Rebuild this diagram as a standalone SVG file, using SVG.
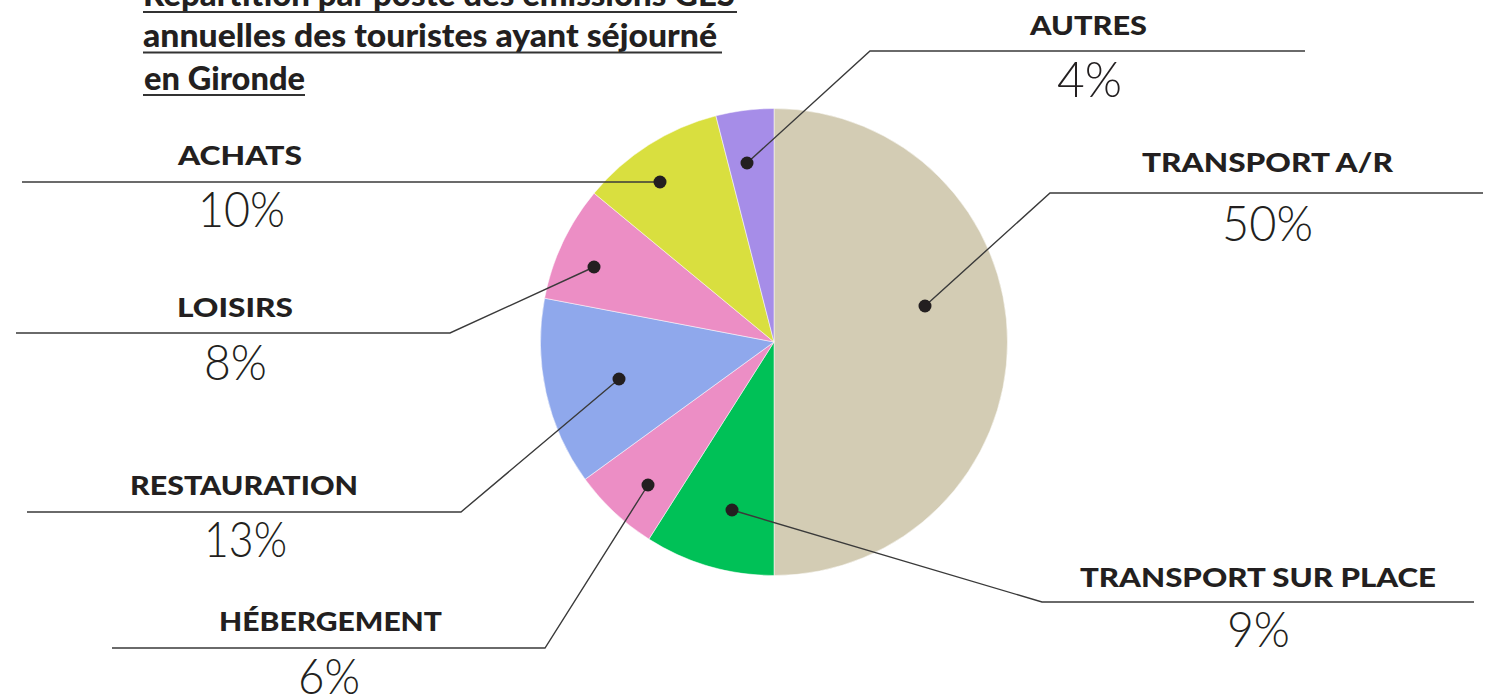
<svg xmlns="http://www.w3.org/2000/svg" width="1493" height="697" viewBox="0 0 1493 697">
<style>
.title{font-family:"Lato","Open Sans",sans-serif;font-weight:900;font-size:33px;fill:#231f20}
.ul{stroke:#333;stroke-width:2}
.lab{font-family:"Lato","Liberation Sans",sans-serif;font-weight:900;font-size:27px;fill:#231f20}
.pct{font-family:"Lato","Liberation Sans",sans-serif;font-weight:300;font-size:49px;fill:#231f20}
.lead{fill:none;stroke:#3a3a3a;stroke-width:1.4}
.dot{fill:#231f20}
.sl{stroke:#fff;stroke-width:0.5}
</style>
<rect width="1493" height="697" fill="#fff"/>
<g id="title">
<text class="title" x="143" y="6" textLength="592" lengthAdjust="spacingAndGlyphs">Répartition par poste des émissions GES</text>
<line class="ul" x1="143" y1="12" x2="737" y2="12"/>
<text class="title" x="143" y="47" textLength="574" lengthAdjust="spacingAndGlyphs">annuelles des touristes ayant séjourné</text>
<line class="ul" x1="143" y1="52.5" x2="722" y2="52.5"/>
<text class="title" x="144" y="90" textLength="161" lengthAdjust="spacingAndGlyphs">en Gironde</text>
<line class="ul" x1="143" y1="95" x2="305" y2="95"/>
</g>
<g id="pie">
<path id="s-transport-ar" class="sl" fill="#d3ccb4" d="M774,342 L774,108.5 A233.5,233.5 0 0 1 1007.5,342 A233.5,233.5 0 0 1 774,575.5 Z"/>
<path id="s-transport-sp" class="sl" fill="#00c157" d="M774,342 L774,575.5 A233.5,233.5 0 0 1 648.9,539.1 Z"/>
<path id="s-hebergement" class="sl" fill="#ec8ec5" d="M774,342 L648.9,539.1 A233.5,233.5 0 0 1 585.1,479.3 Z"/>
<path id="s-restauration" class="sl" fill="#8fa8ec" d="M774,342 L585.1,479.3 A233.5,233.5 0 0 1 544.6,298.2 Z"/>
<path id="s-loisirs" class="sl" fill="#ec8ec5" d="M774,342 L544.6,298.2 A233.5,233.5 0 0 1 594.1,193.2 Z"/>
<path id="s-achats" class="sl" fill="#d9df3f" d="M774,342 L594.1,193.2 A233.5,233.5 0 0 1 715.9,115.8 Z"/>
<path id="s-autres" class="sl" fill="#a68de8" d="M774,342 L715.9,115.8 A233.5,233.5 0 0 1 774,108.5 Z"/>
</g>
<g id="connectors">
<polyline class="lead" points="747,163 870,51 1305,51"/>
<polyline class="lead" points="925,306 1050,193 1483,193"/>
<polyline class="lead" points="660,182 22,182"/>
<polyline class="lead" points="594,267 450,333 16,333"/>
<polyline class="lead" points="619,379 461,512 27,512"/>
<polyline class="lead" points="648,485 545,648 112,648"/>
<polyline class="lead" points="732,510 1042,602 1474,602"/>
<circle class="dot" cx="747" cy="163" r="6.5"/>
<circle class="dot" cx="925" cy="306" r="6.5"/>
<circle class="dot" cx="660" cy="182" r="6.5"/>
<circle class="dot" cx="594" cy="267" r="6.5"/>
<circle class="dot" cx="619" cy="379" r="6.5"/>
<circle class="dot" cx="648" cy="485" r="6.5"/>
<circle class="dot" cx="732" cy="510" r="6.5"/>
</g>
<g id="n-autres">
<text class="lab" x="1030" y="35" textLength="117" lengthAdjust="spacingAndGlyphs">AUTRES</text>
<text class="pct" x="1057" y="97" textLength="65" lengthAdjust="spacingAndGlyphs">4%</text>
</g>
<g id="n-transport-ar">
<text class="lab" x="1142" y="172" textLength="251" lengthAdjust="spacingAndGlyphs">TRANSPORT A/R</text>
<text class="pct" x="1222" y="241" textLength="91" lengthAdjust="spacingAndGlyphs">50%</text>
</g>
<g id="n-achats">
<text class="lab" x="178" y="165" textLength="124" lengthAdjust="spacingAndGlyphs">ACHATS</text>
<text class="pct" x="198" y="227" textLength="87" lengthAdjust="spacingAndGlyphs">10%</text>
</g>
<g id="n-loisirs">
<text class="lab" x="177" y="317" textLength="116" lengthAdjust="spacingAndGlyphs">LOISIRS</text>
<text class="pct" x="204" y="380" textLength="63" lengthAdjust="spacingAndGlyphs">8%</text>
</g>
<g id="n-restauration">
<text class="lab" x="130" y="495" textLength="228" lengthAdjust="spacingAndGlyphs">RESTAURATION</text>
<text class="pct" x="204" y="557" textLength="83" lengthAdjust="spacingAndGlyphs">13%</text>
</g>
<g id="n-hebergement">
<text class="lab" x="219" y="631" textLength="223" lengthAdjust="spacingAndGlyphs">HÉBERGEMENT</text>
<text class="pct" x="298" y="694" textLength="62" lengthAdjust="spacingAndGlyphs">6%</text>
</g>
<g id="n-transport-sp">
<text class="lab" x="1080" y="587" textLength="356" lengthAdjust="spacingAndGlyphs">TRANSPORT SUR PLACE</text>
<text class="pct" x="1227" y="647" textLength="63" lengthAdjust="spacingAndGlyphs">9%</text>
</g>
</svg>
